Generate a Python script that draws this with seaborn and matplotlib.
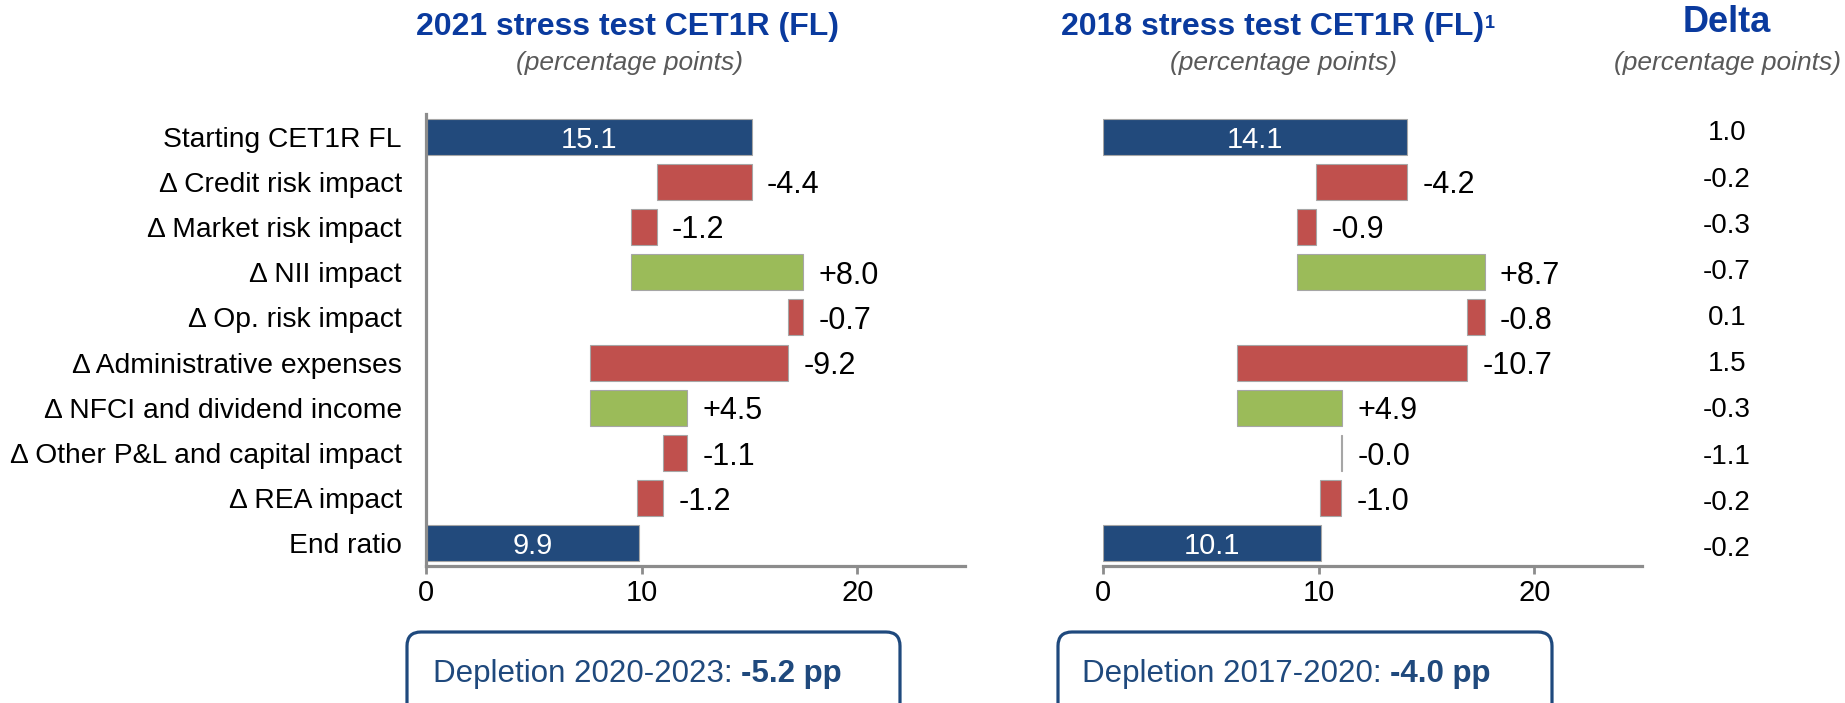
import numpy as np
import pandas as pd
import matplotlib
matplotlib.use("Agg")
import matplotlib.pyplot as plt
import seaborn as sns
from matplotlib.patches import FancyBboxPatch
from matplotlib.transforms import IdentityTransform

categories = ["Starting CET1R FL", "Δ Credit risk impact", "Δ Market risk impact",
              "Δ NII impact", "Δ Op. risk impact", "Δ Administrative expenses",
              "Δ NFCI and dividend income", "Δ Other P&L and capital impact",
              "Δ REA impact", "End ratio"]
kinds = ["total", "step", "step", "step", "step", "step", "step", "step", "step", "total"]
values_2021 = [15.1, -4.4, -1.2, 8.0, -0.7, -9.2, 4.5, -1.1, -1.2, 9.9]
values_2018 = [14.1, -4.2, -0.9, 8.7, -0.8, -10.7, 4.9, -0.04, -1.0, 10.1]
delta = [1.0, -0.2, -0.3, -0.7, 0.1, 1.5, -0.3, -1.1, -0.2, -0.2]
xticks = [0, 10, 20]
depletion = [("Depletion 2020-2023: ", "-5.2 pp"), ("Depletion 2017-2020: ", "-4.0 pp")]

BLUE = "#224A7C"
RED = "#C0504D"
GREEN = "#9BBB59"
TITLE = "#0A3A9E"
GREY_AX = "#8C8C8C"
BOX = "#1F497D"

sns.set_style("white")
plt.rcParams["font.family"] = ["Liberation Sans", "DejaVu Sans"]
plt.rcParams["text.color"] = "black"
plt.rcParams["xtick.labelcolor"] = "black"
plt.rcParams["ytick.labelcolor"] = "black"

W, H = 1845, 703
fig = plt.figure(figsize=(W / 100, H / 100), dpi=100)


def waterfall_frame(vals):
    lefts, widths, colors = [], [], []
    run = 0.0
    for v, k in zip(vals, kinds):
        if k == "total":
            lefts.append(0.0)
            widths.append(v)
            colors.append(BLUE)
            run = v
        else:
            lefts.append(min(run, run + v))
            widths.append(abs(v))
            colors.append(GREEN if v > 0 else RED)
            run += v
    return pd.DataFrame({"cat": categories, "left": lefts, "width": widths,
                         "value": vals, "kind": kinds, "color": colors})


def draw(ax, vals, show_labels):
    df = waterfall_frame(vals)
    sns.barplot(data=df, x="width", y="cat", hue="cat", palette=list(df["color"]),
                saturation=1, legend=False, width=0.8, edgecolor="#A6A6A6",
                linewidth=0.8, ax=ax)
    # seaborn draws from 0, shift each bar to its waterfall start
    for patch, left in zip(ax.patches, df["left"]):
        patch.set_x(left)
    for i, r in df.iterrows():
        if r["kind"] == "total":
            ax.text(r["left"] + r["width"] / 2, i, f"{r['value']:.1f}", color="white",
                    fontsize=21, ha="center", va="center_baseline")
        else:
            ax.annotate(f"{r['value']:+.1f}", (r["left"] + r["width"], i),
                        xytext=(11, 0), textcoords="offset points",
                        fontsize=22, ha="left", va="center_baseline")
    ax.set_xlim(0, 25)
    ax.set_ylim(9.5, -0.5)
    ax.set_xticks(xticks)
    ax.set_xlabel("")
    ax.set_ylabel("")
    ax.tick_params(axis="x", direction="out", length=5.5, width=2, color=GREY_AX,
                   labelsize=21, pad=4, bottom=True)
    ax.tick_params(axis="y", length=0, labelsize=20.3, pad=17.5)
    for s in ["top", "right"]:
        ax.spines[s].set_visible(False)
    ax.spines["bottom"].set_color(GREY_AX)
    ax.spines["bottom"].set_linewidth(2.3)
    if show_labels:
        ax.spines["left"].set_color(GREY_AX)
        ax.spines["left"].set_linewidth(2.3)
    else:
        ax.spines["left"].set_visible(False)
        ax.set_yticklabels([])


bottom = 1 - 566 / H
height = (566 - 114) / H
ax1 = fig.add_axes([426 / W, bottom, 539 / W, height])
ax2 = fig.add_axes([1103 / W, bottom, 539 / W, height])
draw(ax1, values_2021, True)
draw(ax2, values_2018, False)

# titles
fig.text(628 / W, 1 - 27 / H, "2021 stress test CET1R (FL)", color=TITLE,
         fontsize=23, fontweight="bold", ha="center", va="center")
fig.text(630 / W, 1 - 63 / H, "(percentage points)", color="#595959",
         fontsize=19, fontstyle="italic", ha="center", va="center")
t2 = fig.text(1273 / W, 1 - 27 / H, "2018 stress test CET1R (FL)", color=TITLE,
              fontsize=23, fontweight="bold", ha="center", va="center")
fig.add_artist(plt.Annotation("1", xy=(1, 0.9), xycoords=t2, color=TITLE, fontsize=13,
                              fontweight="bold", ha="left", va="top"))
fig.text(1283 / W, 1 - 63 / H, "(percentage points)", color="#595959",
         fontsize=19, fontstyle="italic", ha="center", va="center")
fig.text(1727 / W, 1 - 23 / H, "Delta", color=TITLE, fontsize=26,
         fontweight="bold", ha="center", va="center")
fig.text(1727 / W, 1 - 63 / H, "(percentage points)", color="#595959",
         fontsize=19, fontstyle="italic", ha="center", va="center")

# delta column
ax3 = fig.add_axes([1680 / W, 1 - 569 / H, 94 / W, (569 - 107.4) / H])
ax3.set_ylim(9.5, -0.5)
ax3.set_xlim(0, 1)
ax3.axis("off")
for i, d in enumerate(delta):
    ax3.text(0.5, i, f"{d:.1f}", fontsize=20, ha="center", va="center_baseline")

# depletion boxes
for (x0, x1, tx), (txt, bold) in zip([(407, 900, 433), (1058, 1552, 1082)], depletion):
    box = FancyBboxPatch((x0, -20), x1 - x0, H - 632 + 20,
                         boxstyle="round,pad=0,rounding_size=14",
                         transform=IdentityTransform(), facecolor="none",
                         edgecolor=BOX, linewidth=2.3, clip_on=False)
    fig.add_artist(box)
    t = fig.text(tx / W, 1 - 674 / H, txt, color=BOX, fontsize=22.5, ha="left", va="center")
    fig.add_artist(plt.Annotation(bold, xy=(1, 0), xycoords=t, color=BOX, fontsize=22.5,
                                  fontweight="bold", ha="left", va="bottom"))

fig.savefig("out.png", dpi=100)
